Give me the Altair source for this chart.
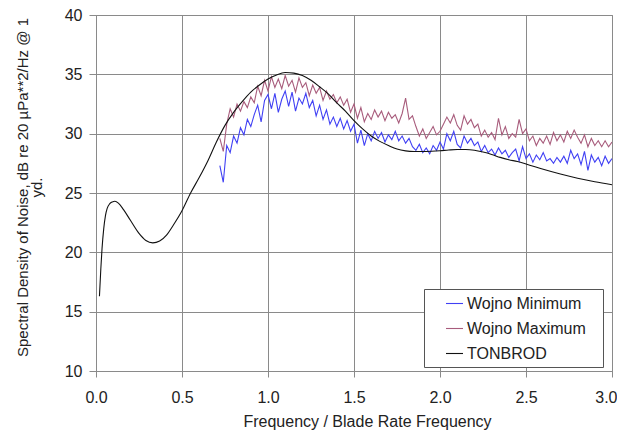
import altair as alt
import numpy as np
import pandas as pd

FONT = "Liberation Sans"

# ---- TONBROD (smooth model curve) ----
ton_x = [0.02, 0.028, 0.035, 0.045, 0.055, 0.065, 0.08, 0.095, 0.11, 0.13, 0.16, 0.2, 0.25, 0.29,
         0.33, 0.37, 0.41, 0.45, 0.5, 0.55, 0.6, 0.65, 0.7, 0.75, 0.8, 0.85, 0.9, 0.95, 1.0,
         1.05, 1.1, 1.15, 1.2, 1.25, 1.3, 1.35, 1.4, 1.45, 1.5, 1.55, 1.6, 1.65, 1.7, 1.75,
         1.8, 1.85, 1.9, 1.95, 2.0, 2.05, 2.1, 2.15, 2.2, 2.25, 2.3, 2.35, 2.4, 2.45, 2.5,
         2.6, 2.7, 2.8, 2.9, 3.0]
ton_y = [16.3, 18.6, 20.3, 22.0, 23.1, 23.7, 24.1, 24.25, 24.3, 24.15, 23.6, 22.7, 21.6, 21.0,
         20.8, 20.95, 21.45, 22.3, 23.5, 25.0, 26.3, 27.7, 29.3, 30.7, 31.8, 32.7, 33.5, 34.1, 34.6,
         34.95, 35.15, 35.1, 34.9, 34.5, 33.95, 33.35, 32.6, 31.9, 31.1, 30.4, 29.8, 29.35, 29.0, 28.7,
         28.55, 28.5, 28.5, 28.52, 28.56, 28.62, 28.66, 28.66, 28.6, 28.45, 28.25, 28.0, 27.8, 27.65, 27.45,
         27.0, 26.6, 26.25, 25.95, 25.7]

# ---- Wojno measurements (x from 0.72 to 3.00, step 0.02) ----
w_start, w_step = 0.72, 0.02
w_min = [27.3, 25.9, 29.0, 28.4, 29.8, 29.2, 30.5, 29.9, 31.2, 30.6,
         31.6, 32.4, 31.0, 32.8, 33.3, 32.1, 33.4, 31.8, 32.9, 33.6,
         32.3, 33.5, 31.9, 33.0, 32.5, 33.4, 32.2, 32.8, 31.5, 32.4,
         31.2, 32.0, 30.8, 31.4, 30.6, 31.3, 30.4, 31.1, 30.2, 30.8,
         29.2, 30.3, 29.0, 30.0, 29.4, 30.2, 29.6, 30.1, 29.3, 29.9,
         29.5, 30.2, 29.4, 29.8, 29.2, 29.6, 28.9, 28.6, 29.1, 28.4,
         28.8, 28.3, 29.0, 28.6, 29.3, 28.7, 30.0, 29.4, 30.2, 29.1,
         28.8, 29.8, 29.2, 29.6, 29.0, 29.3, 28.5, 29.0, 28.4, 28.7,
         28.2, 28.8, 28.3, 28.6, 28.0, 28.4, 28.7, 27.7, 28.9, 27.9,
         28.3, 27.6, 28.2, 27.8, 28.4, 27.7, 27.9, 27.5, 28.0, 27.6,
         28.1, 27.5, 28.6, 27.9, 28.3, 27.4, 28.5, 26.9, 28.2, 27.6,
         28.0, 27.3, 28.1, 27.5, 27.9]
w_max = [29.6, 28.5, 30.8, 32.1, 31.4, 32.5, 31.9, 32.7, 32.2, 33.1,
         32.6, 34.0, 33.2, 34.5, 33.6, 34.8, 33.9, 34.6, 33.8, 34.9,
         34.0, 34.5, 33.5, 34.7, 33.9, 34.3, 33.2, 34.1, 33.4, 33.9,
         32.8, 33.6, 32.9, 33.3, 32.6, 33.1, 32.4, 32.9, 31.8, 32.5,
         31.3, 32.2, 31.0, 31.7, 31.2, 32.0, 31.4, 31.9, 31.1, 31.8,
         31.3, 31.6, 30.9, 31.7, 33.0, 31.2, 31.5, 30.6, 29.8, 30.4,
         29.6, 30.1, 30.6, 29.9, 30.2, 30.8, 31.4, 30.9, 31.6, 30.7,
         30.3, 31.5, 30.8, 31.2, 30.5, 30.8, 29.8, 30.3, 29.7, 30.1,
         29.5, 31.3, 29.9, 30.6, 29.6, 30.0, 29.7, 31.2, 30.0, 30.4,
         29.4, 29.8, 29.0, 29.6, 29.2, 29.8, 29.1, 30.1, 29.4, 29.9,
         29.3, 30.2, 29.6, 30.3, 29.7, 29.2, 29.9, 28.9, 29.6, 29.0,
         29.4, 28.9, 29.4, 28.9, 29.3]

series_names = ["Wojno Minimum", "Wojno Maximum", "TONBROD"]
series_colors = ["#4040f4", "#a85c7c", "#111111"]
series_widths = [1.1, 1.1, 2.0]

w_x = [round(w_start + w_step * i, 2) for i in range(len(w_min))]

df_w = pd.concat([
    pd.DataFrame({"x": w_x, "y": w_min, "series": series_names[0]}),
    pd.DataFrame({"x": w_x, "y": w_max, "series": series_names[1]}),
])
df_t = pd.DataFrame({"x": ton_x, "y": ton_y, "series": series_names[2]})

xs = alt.X("x:Q", scale=alt.Scale(domain=[0, 3], nice=False),
           axis=alt.Axis(values=[0, 0.5, 1, 1.5, 2, 2.5, 3], format=".1f",
                         title="Frequency / Blade Rate Frequency",
                         labelFlush=False, tickSize=6, labelPadding=12,
                         labelAlign={"condition": {"test": "datum.value >= 3", "value": "right"},
                                     "value": "center"},
                         labelOffset={"condition": {"test": "datum.value >= 3", "value": 5},
                                      "value": 0},
                         titleX=271, titleY=55, titleAlign="center",
                         titleBaseline="alphabetic", titleFontSize=16))
ys = alt.Y("y:Q", scale=alt.Scale(domain=[10, 40], nice=False),
           axis=alt.Axis(values=[10, 15, 20, 25, 30, 35, 40], format="d",
                         title=["Spectral Density of Noise, dB re 20 µPa**2/Hz @ 1", "yd."],
                         tickSize=7, labelPadding=7, titleFontSize=15,
                         titleAngle=270, titleX=-69, titleY=172,
                         titleAlign="center", titleBaseline="alphabetic",
                         titleLineHeight=14))
color = alt.Color("series:N", title=None,
                  scale=alt.Scale(domain=series_names, range=series_colors),
                  legend=alt.Legend(orient="none", legendX=328, legendY=274,
                                    labelExpr="datum.label + '\u2800'",
                                    symbolStrokeWidth={"expr": "datum.value == 'TONBROD' ? 2 : 1.2"}))
sw = alt.StrokeWidth("series:N", legend=None,
                     scale=alt.Scale(domain=series_names, range=series_widths))

wojno = alt.Chart(df_w).mark_line(clip=True).encode(x=xs, y=ys, color=color, strokeWidth=sw,
                                                    detail="series:N")
ton = alt.Chart(df_t).mark_line(interpolate="monotone").encode(x=xs, y=ys, color=color, strokeWidth=sw)

chart = alt.layer(wojno, ton).properties(
    width=516, height=356,
    autosize=alt.AutoSizeParams(type="none"),
    padding={"left": 88, "top": 7, "right": 5, "bottom": 59},
).configure(
    font=FONT,
).configure_view(
    stroke="#8a8a8a",
).configure_axis(
    grid=True, gridColor="#8a8a8a", gridWidth=1, gridOpacity=1,
    domainColor="#8a8a8a", tickColor="#8a8a8a",
    labelFont=FONT, labelFontSize=16, labelColor="#222222",
    titleFont=FONT, titleColor="#222222", titleFontWeight="normal",
).configure_legend(
    strokeColor="#555555", fillColor="#ffffff", padding=5, rowPadding=7,
    symbolType="stroke", symbolSize=289, symbolOffset=16, labelOffset=3,
    labelFont=FONT, labelFontSize=16, labelColor="#222222", cornerRadius=0,
)

chart.save("out.html", embed_options={"renderer": "svg", "actions": False})
